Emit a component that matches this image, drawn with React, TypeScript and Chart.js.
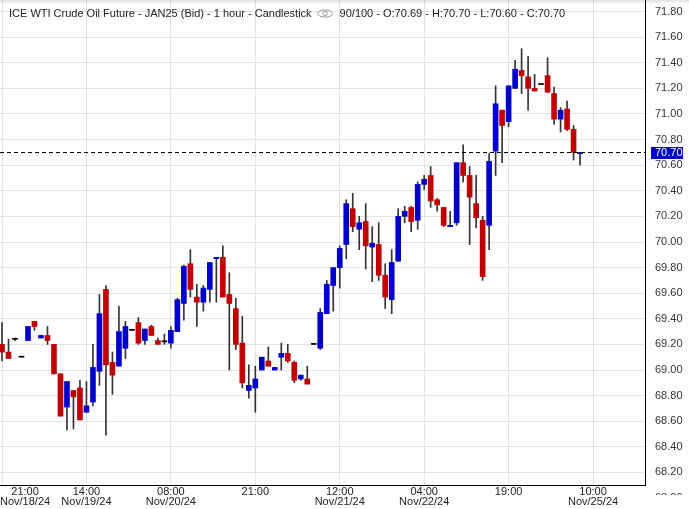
import { useEffect, useRef } from 'react';
import { Chart, registerables } from 'chart.js';

Chart.register(...registerables);

const FONT = '"Liberation Sans", Arial, Helvetica, sans-serif';
Chart.defaults.font.family = FONT;

// Hourly candles, index 0..89 (90 of 100 slots)
const opens = [
  69.20, 69.14, 69.24, 69.10, 69.23, 69.38, 69.25, 69.27, 69.20, 68.97,
  68.71, 68.84, 68.86, 68.67, 68.75, 68.99, 69.63, 69.06, 69.03, 69.17,
  69.31, 69.37, 69.23, 69.34, 69.23, 69.22, 69.21, 69.30, 69.52, 69.83,
  69.57, 69.53, 69.63, 69.87, 69.88, 69.59, 69.48, 69.21, 68.84, 68.86,
  69.00, 69.07, 69.00, 69.10, 69.13, 69.06, 68.93, 68.93, 69.20, 69.17,
  69.44, 69.66, 69.80, 69.98, 70.26, 70.10, 70.16, 69.96, 69.98, 69.74,
  69.55, 69.85, 70.20, 70.27, 70.17, 70.45, 70.52, 70.33, 70.27, 70.12,
  70.15, 70.62, 70.52, 70.30, 70.17, 70.13, 70.71, 71.03, 70.94, 71.20,
  71.34, 71.29, 71.20, 71.23, 71.30, 71.16, 70.96, 71.04, 70.88, 70.69,
];
const highs = [
  69.37, 69.24, 69.25, 69.10, 69.34, 69.38, 69.27, 69.34, 69.20, 68.97,
  68.91, 68.84, 68.92, 68.91, 69.20, 69.59, 69.66, 69.14, 69.50, 69.38,
  69.31, 69.41, 69.32, 69.35, 69.25, 69.28, 69.34, 69.56, 69.82, 69.94,
  69.67, 69.66, 69.84, 69.88, 69.97, 69.76, 69.56, 69.42, 69.04, 69.03,
  69.10, 69.18, 69.02, 69.21, 69.20, 69.07, 68.96, 69.03, 69.20, 69.48,
  69.70, 69.80, 69.97, 70.33, 70.38, 70.20, 70.30, 70.12, 70.15, 69.83,
  69.94, 70.26, 70.28, 70.28, 70.47, 70.52, 70.59, 70.34, 70.27, 70.24,
  70.62, 70.76, 70.59, 70.52, 70.20, 70.69, 71.22, 71.03, 71.22, 71.42,
  71.51, 71.45, 71.31, 71.23, 71.44, 71.21, 71.05, 71.10, 70.91, 70.70,
];
const lows = [
  69.07, 69.09, 69.23, 69.10, 69.23, 69.31, 69.25, 69.20, 68.97, 68.64,
  68.53, 68.54, 68.61, 68.67, 68.72, 68.88, 68.49, 68.81, 69.03, 69.09,
  69.31, 69.20, 69.20, 69.27, 69.20, 69.20, 69.17, 69.30, 69.39, 69.57,
  69.34, 69.46, 69.53, 69.53, 69.57, 69.00, 69.16, 68.86, 68.78, 68.67,
  69.00, 69.03, 69.00, 69.00, 69.06, 68.90, 68.92, 68.89, 69.20, 69.16,
  69.44, 69.46, 69.64, 69.87, 70.08, 69.94, 69.79, 69.69, 69.70, 69.48,
  69.44, 69.85, 70.15, 70.08, 70.10, 70.41, 70.27, 70.24, 70.12, 70.12,
  70.13, 70.47, 69.98, 70.11, 69.70, 69.94, 70.52, 70.62, 70.90, 71.20,
  71.16, 71.03, 71.18, 71.23, 71.17, 70.92, 70.86, 70.87, 70.64, 70.60,
];
const closes = [
  69.14, 69.09, 69.24, 69.10, 69.34, 69.34, 69.27, 69.23, 68.97, 68.64,
  68.91, 68.79, 68.61, 68.72, 69.02, 69.44, 69.04, 68.96, 69.30, 69.34,
  69.31, 69.21, 69.32, 69.27, 69.20, 69.22, 69.31, 69.55, 69.81, 69.63,
  69.53, 69.64, 69.84, 69.88, 69.57, 69.52, 69.20, 68.90, 68.88, 68.93,
  69.10, 69.03, 69.02, 69.13, 69.07, 68.92, 68.96, 68.89, 69.20, 69.45,
  69.67, 69.80, 69.95, 70.30, 70.12, 70.15, 69.97, 69.99, 69.74, 69.57,
  69.84, 70.20, 70.24, 70.16, 70.45, 70.49, 70.32, 70.29, 70.13, 70.13,
  70.62, 70.52, 70.35, 70.19, 69.73, 70.63, 71.08, 70.91, 71.22, 71.35,
  71.30, 71.20, 71.18, 71.23, 71.17, 70.96, 71.03, 70.88, 70.70, 70.70,
];

const xTickIndex = [0, 13, 26, 39, 52, 65, 78, 91];
const xTickTime = ['21:00', '14:00', '08:00', '21:00', '12:00', '04:00', '19:00', '10:00'];
const xTickDate = ['Nov/18/24', 'Nov/19/24', 'Nov/20/24', '', 'Nov/21/24', 'Nov/22/24', '', 'Nov/25/24'];
const yTicks = [
  68.2, 68.4, 68.6, 68.8, 69.0, 69.2, 69.4, 69.6, 69.8, 70.0,
  70.2, 70.4, 70.6, 70.8, 71.0, 71.2, 71.4, 71.6, 71.8,
];
const yCutLabel = 68.0;
const titleMain = 'ICE WTI Crude Oil Future - JAN25 (Bid) - 1 hour - Candlestick';
const titleInfo = '90/100 - O:70.69 - H:70.70 - L:70.60 - C:70.70';
const lastPrice = 70.70;

const UP = '#0000cc';
const DOWN = '#c00000';
const FLAT = '#000000';

const overlayPlugin = {
  id: 'overlay',
  beforeDraw(chart: any) {
    const { ctx, width, height } = chart;
    ctx.save();
    ctx.fillStyle = '#ffffff';
    ctx.fillRect(0, 0, width, height);
    ctx.restore();
  },
  afterDatasetsDraw(chart: any) {
    const { ctx, chartArea } = chart;
    const ys = chart.scales.y;
    const yp = Math.round(ys.getPixelForValue(lastPrice)) + 0.5;
    ctx.save();
    ctx.strokeStyle = '#000';
    ctx.lineWidth = 1;
    ctx.setLineDash([4, 3]);
    ctx.beginPath();
    ctx.moveTo(chartArea.left, yp);
    ctx.lineTo(chartArea.right, yp);
    ctx.stroke();
    ctx.restore();
  },
  afterDraw(chart: any) {
    const { ctx, chartArea, width } = chart;
    const xs = chart.scales.x;
    const ys = chart.scales.y;
    ctx.save();
    ctx.font = '11px ' + FONT;

    // x labels
    ctx.fillStyle = '#222';
    ctx.textAlign = 'center';
    ctx.textBaseline = 'alphabetic';
    xTickIndex.forEach((idx, k) => {
      const px = xs.getPixelForValue(idx);
      const lines = [xTickTime[k], xTickDate[k]].filter((t) => t);
      const w = Math.max(...lines.map((t) => ctx.measureText(t).width));
      let c = Math.max(px, w / 2);
      c = Math.min(c, chartArea.right - w / 2);
      lines.forEach((t, j) => ctx.fillText(t, c, chartArea.bottom + 9.5 + j * 10.5));
    });

    // clipped extra y label below the plot
    ctx.save();
    ctx.beginPath();
    ctx.rect(chartArea.right + 1, chartArea.bottom + 1, width - chartArea.right, 9);
    ctx.clip();
    ctx.fillStyle = '#333';
    ctx.textAlign = 'left';
    ctx.textBaseline = 'middle';
    ctx.fillText(yCutLabel.toFixed(2), chartArea.right + 10, ys.getPixelForValue(yCutLabel));
    ctx.restore();

    // current price box
    const yp = ys.getPixelForValue(lastPrice);
    ctx.fillStyle = UP;
    ctx.fillRect(chartArea.right + 6, Math.round(yp - 5), 32, 12);
    ctx.fillStyle = '#ffffff';
    ctx.textAlign = 'left';
    ctx.textBaseline = 'middle';
    ctx.fillText(lastPrice.toFixed(2), chartArea.right + 10, yp + 0.5);

    // title
    ctx.fillStyle = '#222';
    ctx.textBaseline = 'alphabetic';
    ctx.fillText(titleMain, 9, 17);
    const tw = ctx.measureText(titleMain).width;
    const ex = 9 + tw + 13.5;
    ctx.strokeStyle = '#9a9a9a';
    ctx.lineWidth = 1;
    ctx.beginPath();
    ctx.ellipse(ex, 13.5, 7.5, 3.6, 0, 0, Math.PI * 2);
    ctx.stroke();
    ctx.beginPath();
    ctx.arc(ex, 13.5, 2.2, 0, Math.PI * 2);
    ctx.stroke();
    ctx.fillText(titleInfo, ex + 14.5, 17);

    // top shadow
    const g = ctx.createLinearGradient(0, 0, 0, 4);
    g.addColorStop(0, 'rgba(0,0,0,0.12)');
    g.addColorStop(1, 'rgba(0,0,0,0)');
    ctx.fillStyle = g;
    ctx.fillRect(0, 0, width, 4);
    ctx.restore();
  },
};

export default function App() {
  const ref = useRef<HTMLCanvasElement | null>(null);

  useEffect(() => {
    document.body.style.margin = '0';
    const canvas = ref.current;
    if (!canvas) return;
    const bodyColors = opens.map((o, i) =>
      closes[i] > o ? UP : closes[i] < o ? DOWN : FLAT
    );
    const bodyData = opens.map((o, i) => ({ x: i, y: [o, closes[i]] }));
    const wickData = lows.map((l, i) => ({ x: i, y: [l, highs[i]] }));

    const chart = new Chart(canvas, {
      type: 'bar',
      data: {
        datasets: [
          {
            label: 'body',
            data: bodyData as any,
            backgroundColor: bodyColors,
            borderWidth: 0,
            barThickness: 5,
            minBarLength: 1,
            grouped: false,
            order: 0,
          } as any,
          {
            label: 'wick',
            data: wickData as any,
            backgroundColor: '#333333',
            borderWidth: 0,
            barThickness: 1,
            grouped: false,
            order: 1,
          } as any,
        ],
      },
      options: {
        responsive: false,
        maintainAspectRatio: false,
        animation: false,
        devicePixelRatio: 1,
        layout: { padding: 0 },
        plugins: {
          legend: { display: false },
          tooltip: { enabled: false },
          title: { display: false },
        },
        scales: {
          x: {
            type: 'linear',
            min: -0.31,
            max: 99.0,
            offset: false,
            grid: { color: '#e3e3e3', drawTicks: false, offset: false },
            border: { display: true, color: '#000', width: 1 },
            ticks: { display: false },
            afterBuildTicks: (s: any) => {
              s.ticks = xTickIndex.map((v) => ({ value: v }));
            },
            afterFit: (s: any) => {
              s.height = 24;
              s.paddingLeft = 0;
              s.paddingRight = 0;
              s.paddingTop = 0;
              s.paddingBottom = 0;
            },
          },
          y: {
            type: 'linear',
            position: 'right',
            min: 68.1016,
            max: 71.8906,
            grid: { color: '#e3e3e3', drawTicks: false },
            border: { display: true, color: '#000', width: 1 },
            ticks: {
              padding: 10,
              color: '#333',
              font: { size: 11, family: FONT },
              callback: (v: any) => Number(v).toFixed(2),
            },
            afterBuildTicks: (s: any) => {
              s.ticks = yTicks.map((v) => ({ value: v }));
            },
            afterFit: (s: any) => {
              s.width = 44;
              s.paddingTop = 0;
              s.paddingBottom = 0;
              s.paddingLeft = 0;
              s.paddingRight = 0;
            },
          },
        },
      } as any,
      plugins: [overlayPlugin],
    });
    return () => chart.destroy();
  }, []);

  return (
    <div style={{ position: 'absolute', left: 0, top: 0, width: 689, height: 509, background: '#fff' }}>
      <canvas ref={ref} width={689} height={509} style={{ display: 'block' }} />
    </div>
  );
}
